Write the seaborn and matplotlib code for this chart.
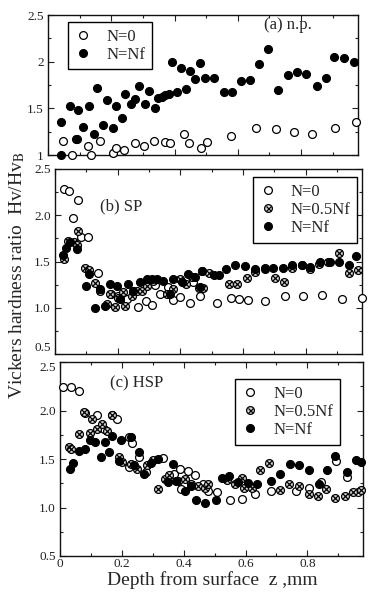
import numpy as np
import pandas as pd
import matplotlib
matplotlib.use("Agg")
import matplotlib.pyplot as plt
import seaborn as sns
from matplotlib.lines import Line2D
from matplotlib.legend_handler import HandlerTuple

sns.set_style("ticks")
plt.rcParams['font.family'] = ['Liberation Serif', 'DejaVu Serif']
plt.rcParams['mathtext.fontset'] = 'stix'

# ---------------- data ----------------
# (a) n.p.
a_n0_x = [0.047, 0.092, 0.077, 0.126, 0.137, 0.163, 0.205, 0.214, 0.240, 0.274, 0.303, 0.334,
          0.371, 0.387, 0.429, 0.445, 0.485, 0.503, 0.580, 0.659, 0.722, 0.777, 0.835, 0.908, 0.975]
a_n0_y = [1.15, 1.17, 1.00, 1.10, 1.00, 1.15, 1.02, 1.08, 1.05, 1.125, 1.10, 1.15,
          1.14, 1.125, 1.22, 1.13, 1.08, 1.135, 1.20, 1.29, 1.275, 1.25, 1.23, 1.29, 1.357]
a_nf_x = [0.042, 0.042, 0.069, 0.087, 0.095, 0.111, 0.130, 0.144, 0.156, 0.174, 0.187, 0.205,
          0.214, 0.234, 0.244, 0.263, 0.276, 0.288, 0.308, 0.319, 0.337, 0.348, 0.360, 0.371,
          0.381, 0.392, 0.409, 0.421, 0.437, 0.448, 0.466, 0.480, 0.495, 0.525, 0.555, 0.583,
          0.611, 0.640, 0.667, 0.695, 0.727, 0.759, 0.788, 0.817, 0.850, 0.878, 0.904, 0.935, 0.967]
a_nf_y = [1.357, 1.00, 1.52, 1.17, 1.48, 1.30, 1.525, 1.23, 1.72, 1.32, 1.59, 1.29,
          1.525, 1.40, 1.65, 1.55, 1.60, 1.74, 1.55, 1.69, 1.50, 1.61, 1.625, 1.64,
          1.65, 2.00, 1.67, 1.93, 1.71, 1.90, 1.81, 1.99, 1.83, 1.83, 1.67, 1.68,
          1.79, 1.80, 1.97, 2.14, 1.70, 1.86, 1.89, 1.87, 1.74, 1.82, 2.05, 2.04, 2.00]

# (b) SP
b_n0_x = [0.030, 0.046, 0.075, 0.056, 0.083, 0.104, 0.136, 0.180, 0.200, 0.231, 0.250, 0.266,
          0.290, 0.309, 0.320, 0.335, 0.360, 0.378, 0.400, 0.431, 0.440, 0.460, 0.463, 0.470,
          0.517, 0.562, 0.586, 0.616, 0.671, 0.733, 0.793, 0.852, 0.916, 0.980]
b_n0_y = [2.28, 2.26, 2.16, 1.97, 1.77, 1.77, 1.38, 1.15, 1.13, 1.10, 1.18, 1.01,
          1.07, 1.03, 1.25, 1.15, 1.22, 1.08, 1.12, 1.05, 1.28, 1.21, 1.13, 1.40,
          1.05, 1.11, 1.09, 1.08, 1.07, 1.13, 1.13, 1.14, 1.10, 1.11]
b_nh_x = [0.029, 0.043, 0.061, 0.069, 0.074, 0.096, 0.107, 0.128, 0.144, 0.165, 0.176, 0.192,
          0.202, 0.218, 0.224, 0.245, 0.261, 0.277, 0.293, 0.314, 0.357, 0.378, 0.399, 0.418,
          0.437, 0.474, 0.490, 0.554, 0.580, 0.612, 0.639, 0.671, 0.703, 0.732, 0.756, 0.788,
          0.815, 0.844, 0.873, 0.905, 0.937, 0.966]
b_nh_y = [1.53, 1.72, 1.71, 1.68, 1.83, 1.43, 1.41, 1.27, 1.18, 1.04, 1.15, 1.01,
          1.11, 1.17, 1.02, 1.13, 1.18, 1.18, 1.24, 1.29, 1.15, 1.20, 1.31, 1.26,
          1.33, 1.21, 1.38, 1.26, 1.26, 1.32, 1.39, 1.43, 1.32, 1.28, 1.43, 1.46,
          1.42, 1.47, 1.50, 1.59, 1.38, 1.41]
b_nf_x = [0.027, 0.035, 0.048, 0.069, 0.099, 0.110, 0.128, 0.144, 0.160, 0.176, 0.197, 0.208,
          0.234, 0.250, 0.272, 0.293, 0.309, 0.325, 0.346, 0.367, 0.378, 0.405, 0.426, 0.447,
          0.463, 0.469, 0.506, 0.522, 0.546, 0.575, 0.607, 0.639, 0.671, 0.697, 0.729, 0.756,
          0.788, 0.815, 0.847, 0.879, 0.905, 0.937, 0.962]
b_nf_y = [1.57, 1.65, 1.71, 1.63, 1.24, 1.37, 1.00, 1.20, 1.02, 1.26, 1.24, 1.09,
          1.26, 1.18, 1.28, 1.31, 1.31, 1.31, 1.29, 1.15, 1.31, 1.28, 1.37, 1.33,
          1.22, 1.40, 1.35, 1.35, 1.42, 1.46, 1.45, 1.42, 1.42, 1.43, 1.43, 1.46,
          1.46, 1.44, 1.50, 1.50, 1.49, 1.46, 1.56]

# (c) HSP
c_n0_x = [0.009, 0.035, 0.063, 0.082, 0.120, 0.169, 0.185, 0.142, 0.223, 0.232, 0.256, 0.223,
          0.278, 0.332, 0.370, 0.387, 0.414, 0.436, 0.463, 0.392, 0.480, 0.507, 0.550, 0.588,
          0.632, 0.681, 0.762, 0.806, 0.844, 0.893, 0.928, 0.964]
c_n0_y = [2.24, 2.24, 2.20, 1.97, 1.95, 1.95, 1.91, 1.81, 1.73, 1.66, 1.52, 1.42,
          1.37, 1.51, 1.35, 1.40, 1.38, 1.33, 1.24, 1.19, 1.17, 1.16, 1.08, 1.09,
          1.14, 1.17, 1.17, 1.20, 1.26, 1.48, 1.31, 1.16]
c_nh_x = [0.030, 0.035, 0.060, 0.078, 0.096, 0.104, 0.120, 0.136, 0.153, 0.169, 0.190, 0.200,
          0.229, 0.250, 0.283, 0.300, 0.316, 0.338, 0.354, 0.381, 0.403, 0.425, 0.447, 0.468,
          0.480, 0.539, 0.566, 0.588, 0.594, 0.620, 0.648, 0.677, 0.713, 0.741, 0.773, 0.804,
          0.833, 0.861, 0.891, 0.921, 0.948, 0.975]
c_nh_y = [1.62, 1.60, 1.76, 1.98, 1.77, 1.91, 1.81, 1.86, 1.79, 1.95, 1.52, 1.47,
          1.45, 1.40, 1.44, 1.49, 1.19, 1.29, 1.33, 1.27, 1.29, 1.24, 1.22, 1.20,
          1.24, 1.28, 1.24, 1.30, 1.20, 1.20, 1.39, 1.46, 1.18, 1.24, 1.22, 1.14,
          1.12, 1.19, 1.10, 1.12, 1.16, 1.18]
c_nf_x = [0.033, 0.041, 0.063, 0.082, 0.098, 0.114, 0.131, 0.147, 0.158, 0.169, 0.196, 0.229,
          0.256, 0.190, 0.240, 0.272, 0.294, 0.316, 0.365, 0.349, 0.376, 0.403, 0.425, 0.441,
          0.470, 0.503, 0.523, 0.545, 0.577, 0.608, 0.637, 0.681, 0.713, 0.743, 0.773, 0.804,
          0.839, 0.863, 0.891, 0.928, 0.957, 0.975]
c_nf_y = [1.40, 1.46, 1.58, 1.60, 1.70, 1.68, 1.52, 1.68, 1.57, 1.74, 1.70, 1.73,
          1.57, 1.48, 1.44, 1.35, 1.46, 1.50, 1.45, 1.26, 1.27, 1.17, 1.22, 1.08,
          1.05, 1.08, 1.30, 1.32, 1.26, 1.25, 1.24, 1.27, 1.35, 1.45, 1.44, 1.39,
          1.24, 1.39, 1.53, 1.37, 1.49, 1.47]

x_ticks = [0, 0.2, 0.4, 0.6, 0.8]
x_ticklabels = ["0", "0.2", "0.4", "0.6", "0.8"]
a_yticks = [1, 1.5, 2, 2.5]
a_yticklabels = ["1", "1.5", "2", "2.5"]
bc_yticks = [0.5, 1.0, 1.5, 2.0, 2.5]
bc_yticklabels = ["0.5", "1.0", "1.5", "2.0", "2.5"]

# ---------------- figure ----------------
W, H = 368, 596
fig = plt.figure(figsize=(W / 100, H / 100), dpi=100)

def rect(l, r, t, b):
    return [l / W, 1 - b / H, (r - l) / W, (b - t) / H]

ax_a = fig.add_axes(rect(48, 358, 15, 155))
ax_b = fig.add_axes(rect(55, 362, 169, 354))
ax_c = fig.add_axes(rect(60, 363, 362, 556))

MS = 32
LW = 0.9

def open_pts(ax, x, y):
    sns.scatterplot(x=x, y=y, ax=ax, marker='o', s=MS, facecolor='white',
                    edgecolor='black', linewidth=LW, zorder=3, clip_on=False)

def filled_pts(ax, x, y):
    sns.scatterplot(x=x, y=y, ax=ax, marker='o', s=MS, color='black',
                    edgecolor='black', linewidth=LW, zorder=4, clip_on=False)

def crossed_pts(ax, x, y):
    sns.scatterplot(x=x, y=y, ax=ax, marker='o', s=MS, facecolor='#d8d8d8',
                    edgecolor='black', linewidth=LW, zorder=3, clip_on=False)
    sns.scatterplot(x=x, y=y, ax=ax, marker='x', s=MS * 0.55, color='black',
                    linewidth=0.9, zorder=3, clip_on=False)

open_pts(ax_a, a_n0_x, a_n0_y)
filled_pts(ax_a, a_nf_x, a_nf_y)

open_pts(ax_b, b_n0_x, b_n0_y)
crossed_pts(ax_b, b_nh_x, b_nh_y)
filled_pts(ax_b, b_nf_x, b_nf_y)

open_pts(ax_c, c_n0_x, c_n0_y)
crossed_pts(ax_c, c_nh_x, c_nh_y)
filled_pts(ax_c, c_nf_x, c_nf_y)

for ax in (ax_a, ax_b, ax_c):
    ax.set_xlim(0, 0.98)
    ax.set_xticks(x_ticks)
    ax.set_xticks(np.arange(0.1, 0.98, 0.2), minor=True)
    ax.tick_params(which='both', direction='in', top=True, right=True,
                   labelsize=9.5, colors='#222222', length=4, width=0.8)
    ax.tick_params(which='minor', length=2.5)
    ax.tick_params(axis='x', pad=1.5)
    ax.tick_params(axis='y', pad=3)
    for sp in ax.spines.values():
        sp.set_linewidth(1.0)
        sp.set_color('#111111')
    ax.set_xlabel("")
    ax.set_ylabel("")

ax_a.set_ylim(1, 2.5)
ax_a.set_yticks(a_yticks)
ax_a.set_yticklabels(a_yticklabels)
ax_a.set_yticks([1.25, 1.75, 2.25], minor=True)
ax_a.set_xticklabels([])

for ax in (ax_b, ax_c):
    ax.set_ylim(0.5, 2.5)
    ax.set_yticks(bc_yticks)
    ax.set_yticklabels(bc_yticklabels)
    ax.set_yticks([0.75, 1.25, 1.75, 2.25], minor=True)
ax_b.set_xticklabels([])
ax_c.set_xticklabels(x_ticklabels)

# keep the stacked "0.5" / "2.5" labels apart, as in the original
ax_b.get_yticklabels()[0].set_va('bottom')
ax_c.get_yticklabels()[-1].set_va('top')

# panel labels
ax_a.text(0.852, 0.93, "(a) n.p.", transform=ax_a.transAxes, ha='right', va='center', fontsize=12)
ax_b.text(0.145, 0.80, "(b) SP", transform=ax_b.transAxes, ha='left', va='center', fontsize=12)
ax_c.text(0.165, 0.89, "(c) HSP", transform=ax_c.transAxes, ha='left', va='center', fontsize=12)

# legends
h_open = Line2D([], [], marker='o', ls='none', ms=5.6, mfc='white', mec='black', mew=LW)
h_fill = Line2D([], [], marker='o', ls='none', ms=5.6, mfc='black', mec='black', mew=LW)
h_circ = Line2D([], [], marker='o', ls='none', ms=5.6, mfc='#d8d8d8', mec='black', mew=LW)
h_x = Line2D([], [], marker='x', ls='none', ms=3.6, mec='black', mew=0.9)
h_cross = (h_circ, h_x)

leg_kw = dict(frameon=True, fancybox=False, edgecolor='black', framealpha=1,
              fontsize=12, handletextpad=0.9, borderpad=0.4, labelspacing=0.12,
              handlelength=1.0, borderaxespad=0)

la = ax_a.legend([h_open, h_fill], ["N=0", "N=Nf"], loc='upper left',
                 bbox_to_anchor=(0.065, 0.95), **leg_kw)
lb = ax_b.legend([h_open, h_cross, h_fill], ["N=0", "N=0.5Nf", "N=Nf"], loc='upper right',
                 bbox_to_anchor=(0.985, 0.955), handler_map={tuple: HandlerTuple(ndivide=1)},
                 **leg_kw)
lc = ax_c.legend([h_open, h_cross, h_fill], ["N=0", "N=0.5Nf", "N=Nf"], loc='upper right',
                 bbox_to_anchor=(0.925, 0.91), handler_map={tuple: HandlerTuple(ndivide=1)},
                 **leg_kw)
for lg in (la, lb, lc):
    lg.get_frame().set_linewidth(1.0)

fig.text(0.577, 0.026, "Depth from surface  z ,mm", ha='center', va='center', fontsize=14)
fig.text(0.046, 0.539, r"Vickers hardness ratio  Hv/Hv$_\mathrm{B}$", ha='center', va='center',
         rotation=90, fontsize=14)

fig.savefig("out.png", dpi=100)
